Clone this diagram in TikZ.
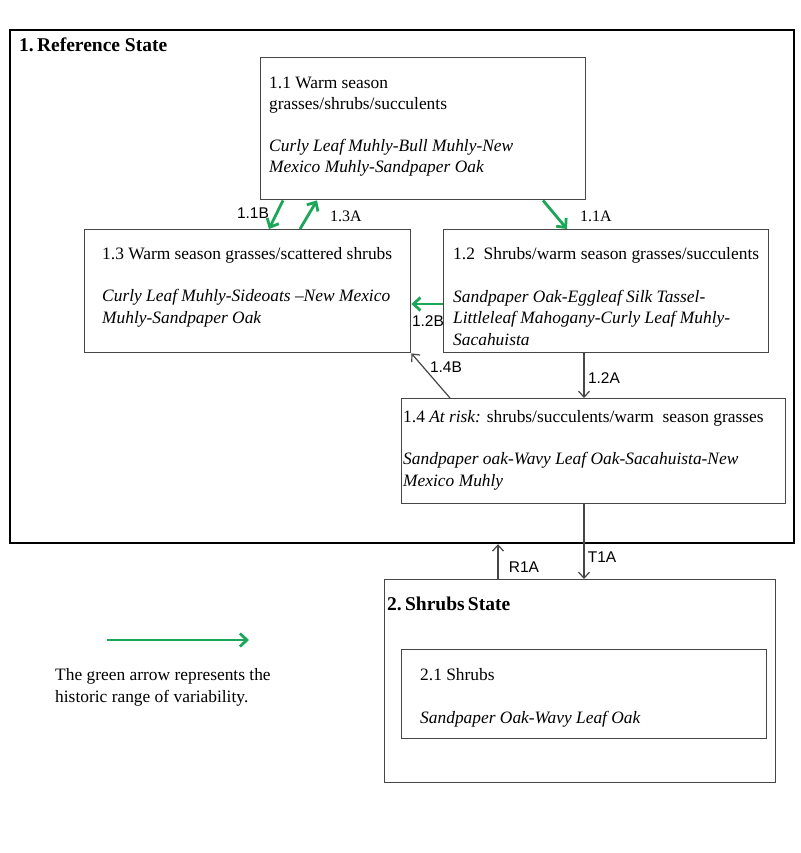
\documentclass[tikz,border=0pt]{standalone}
\usepackage{fontspec}
\setmainfont{Liberation Serif}
\newfontfamily\labsans{Liberation Sans}
\usetikzlibrary{arrows.meta}
\definecolor{hrvgreen}{RGB}{28,166,88}
\definecolor{boxgray}{RGB}{70,70,70}
\tikzset{
  statebox/.style={draw=black,line width=2.2pt,inner sep=0pt,anchor=north west},
  phasebox/.style={draw=boxgray,line width=1.4pt,inner sep=0pt,anchor=north west,fill=white},
  boxtext/.style={anchor=base west,inner sep=0pt,align=left,font=\fontsize{17.4}{21.2}\selectfont},
  titletext/.style={anchor=base west,inner sep=0pt,font=\fontsize{19.5}{23}\selectfont\bfseries},
  labserif/.style={inner sep=0pt,font=\fontsize{16}{18}\selectfont},
  labsans/.style={inner sep=0pt,font=\fontsize{15.5}{18}\selectfont\labsans},
  garrow/.style={draw=hrvgreen,line width=2.8pt,-{Straight Barb[length=7pt,width=13pt,line width=2.8pt]}},
  karrow/.style={draw=boxgray,line width=1.2pt,-{Straight Barb[length=6pt,width=11pt,line width=1.2pt]}}
}
\begin{document}
\begin{tikzpicture}[x=1pt,y=-1pt]
\useasboundingbox[fill=white] (0,0) rectangle (800,853);
% state 1
\node[statebox,minimum width=784pt,minimum height=513pt] (s1) at (9,29) {};
\node[titletext] (s1t) at (19,52) {1.\,Reference State};
% phases
\node[phasebox,minimum width=325pt,minimum height=142pt] (b11) at (260,57) {};
\node[phasebox,minimum width=326pt,minimum height=123pt] (b13) at (84,229) {};
\node[phasebox,minimum width=325pt,minimum height=123pt] (b12) at (443,229) {};
\node[phasebox,minimum width=384pt,minimum height=105pt] (b14) at (401,398) {};
% text blocks (anchored at the baseline of their last line)
\node[boxtext] (t11) at (269,173) {1.1 Warm season\\grasses/shrubs/succulents\\[21pt]\itshape Curly Leaf Muhly-Bull Muhly-New\\\itshape Mexico Muhly-Sandpaper Oak};
\node[boxtext] (t13) at (102,323) {1.3 Warm season grasses/scattered shrubs\\[21.5pt]\itshape Curly Leaf Muhly-Sideoats --New Mexico\\\itshape Muhly-Sandpaper Oak};
\node[boxtext] (t12) at (453,345) {1.2\ \ Shrubs/warm season grasses/succulents\\[21.5pt]\itshape Sandpaper Oak-Eggleaf Silk Tassel-\\\itshape Littleleaf Mahogany-Curly Leaf Muhly-\\\itshape Sacahuista};
\node[boxtext] (t14) at (403,486) {1.4 \textit{At risk:} shrubs/succulents/warm\ \ season grasses\\[21pt]\itshape Sandpaper oak-Wavy Leaf Oak-Sacahuista-New\\\itshape Mexico Muhly};
% state 2
\node[phasebox,minimum width=391pt,minimum height=203pt] (s2) at (384,579) {};
\node[titletext] (s2t) at (387,610) {2.\,Shrubs\,State};
\node[phasebox,minimum width=365pt,minimum height=89pt] (b21) at (401,649) {};
\node[boxtext] (t21) at (420,723) {2.1 Shrubs\\[21pt]\itshape Sandpaper Oak-Wavy Leaf Oak};
% green transitions
\draw[garrow] ([xshift=23pt]b11.south west) -- ([xshift=185pt]b13.north west);
\draw[garrow] ([xshift=216pt]b13.north west) -- ([xshift=57pt]b11.south west);
\draw[garrow] ([xshift=283pt]b11.south west) -- ([xshift=124pt]b12.north west);
\draw[garrow] ([yshift=-75pt]b12.north west) -- ([yshift=-75pt]b13.north east);
% black transitions
\draw[karrow] ([xshift=141pt]b12.south west) -- ([xshift=183pt]b14.north west);
\draw[karrow] ([xshift=49pt]b14.north west) -- (b13.south east);
\draw[karrow] ([xshift=183pt]b14.south west) -- ([xshift=200pt]s2.north west);
\draw[karrow] ([xshift=114pt]s2.north west) -- ([xshift=489pt]s1.south west);
% labels
\node[labsans] (l11b) at (253,213) {1.1B};
\node[labserif] (l13a) at (346,216) {1.3A};
\node[labserif] (l11a) at (596,216) {1.1A};
\node[labsans] (l12b) at (428,321) {1.2B};
\node[labsans] (l14b) at (446,367) {1.4B};
\node[labsans] (l12a) at (604,378) {1.2A};
\node[labsans] (lt1a) at (602,557) {T1A};
\node[labsans] (lr1a) at (524,567) {R1A};
% legend
\coordinate (lg1) at (107,640);
\coordinate (lg2) at (249,640);
\draw[garrow] (lg1) -- (lg2);
\node[boxtext] (leg) at (55,702) {The green arrow represents the\\historic range of variability.};
\end{tikzpicture}
\end{document}
